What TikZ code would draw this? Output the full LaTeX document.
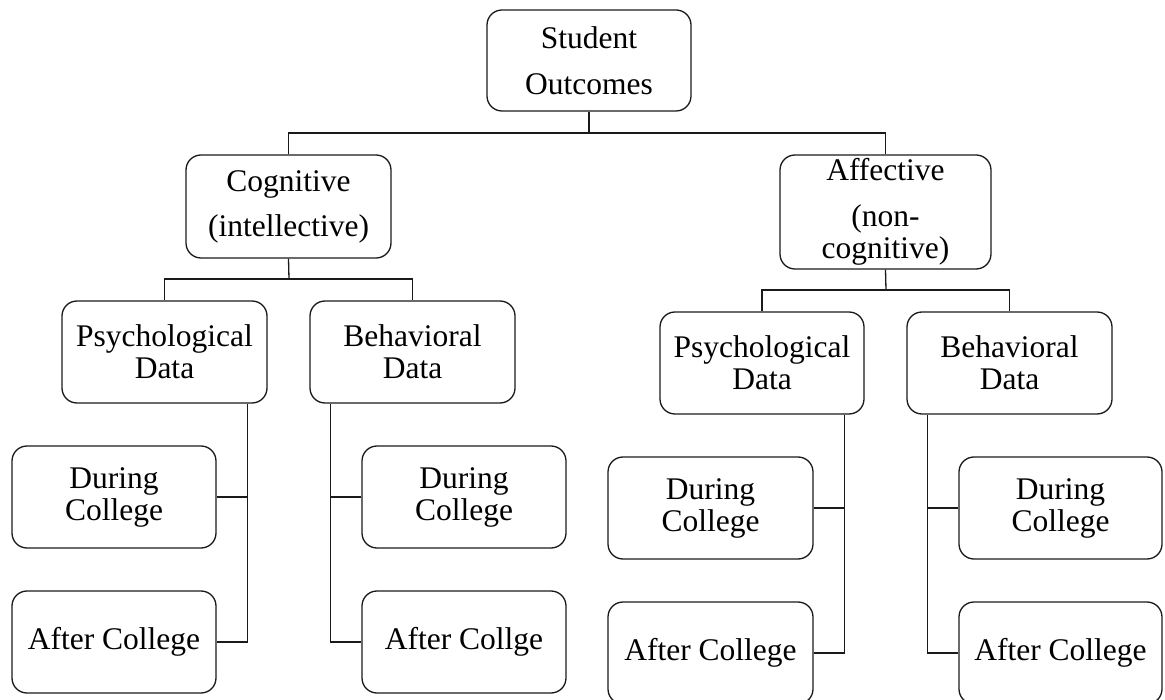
\documentclass[tikz,border=0pt]{standalone}
\usepackage{fontspec}
\setmainfont{Liberation Serif}
\definecolor{ink}{HTML}{1A1A1A}
\tikzset{
  box/.style={draw=ink, line width=1.3pt, rounded corners=15pt, minimum width=205pt,
    minimum height=102pt, inner sep=0pt, align=center, text=black,
    font=\fontsize{31.5}{32}\selectfont},
  link/.style={draw=ink, line width=1.3pt}
}
\begin{document}
\begin{tikzpicture}[x=1pt,y=-1pt]
\clip (0,0) rectangle (1165,700);
% level 0
\node[box, minimum width=204pt, minimum height=101pt] (so) at (589,60.5) {Student\\[14pt]Outcomes};
% level 1
\node[box, minimum height=103pt] (cog) at (288.5,206.5) {Cognitive\\[13pt](intellective)};
\node[box, minimum width=211pt, minimum height=114pt] (aff) at (885.5,212) {Affective\\[14pt](non-\\cognitive)};
% level 2
\node[box] (pL) at (164.5,352) {Psychological\\Data};
\node[box] (bL) at (412.5,352) {Behavioral\\Data};
\node[box, minimum width=204pt] (pR) at (762,363) {Psychological\\Data};
\node[box] (bR) at (1009.5,363) {Behavioral\\Data};
% level 3
\node[box, minimum width=204pt] (dpL) at (114,497) {During\\College};
\node[box, minimum width=204pt] (apL) at (114,642) {After College};
\node[box, minimum width=204pt] (dbL) at (464,497) {During\\College};
\node[box, minimum width=204pt] (abL) at (464,642) {After Collge};
\node[box] (dpR) at (710.5,508) {During\\College};
\node[box] (apR) at (710.5,653) {After College};
\node[box, minimum width=203pt] (dbR) at (1060.5,508) {During\\College};
\node[box, minimum width=203pt] (abR) at (1060.5,653) {After College};
% junctions
\coordinate (j0) at (589,133);
\coordinate (j1) at (289,279);
\coordinate (j2) at (886,290);
\coordinate (pLb) at ([xshift=-20pt]pL.south east);
\coordinate (bLb) at ([xshift=21pt]bL.south west);
\coordinate (pRb) at ([xshift=-20pt]pR.south east);
\coordinate (bRb) at ([xshift=21pt]bR.south west);
% connectors
\draw[link] (so.south) -- (j0);
\draw[link] (cog.north) |- (aff.north |- j0) -- (aff.north);
\draw[link] (cog.south) -- (j1);
\draw[link] (pL.north) |- (bL.north |- j1) -- (bL.north);
\draw[link] (aff.south) -- (j2);
\draw[link] (pR.north) |- (bR.north |- j2) -- (bR.north);
\draw[link] (pLb) |- (apL.east);
\draw[link] (dpL.east) -- (dpL.east -| pLb);
\draw[link] (bLb) |- (abL.west);
\draw[link] (dbL.west) -- (dbL.west -| bLb);
\draw[link] (pRb) |- (apR.east);
\draw[link] (dpR.east) -- (dpR.east -| pRb);
\draw[link] (bRb) |- (abR.west);
\draw[link] (dbR.west) -- (dbR.west -| bRb);
\end{tikzpicture}
\end{document}
